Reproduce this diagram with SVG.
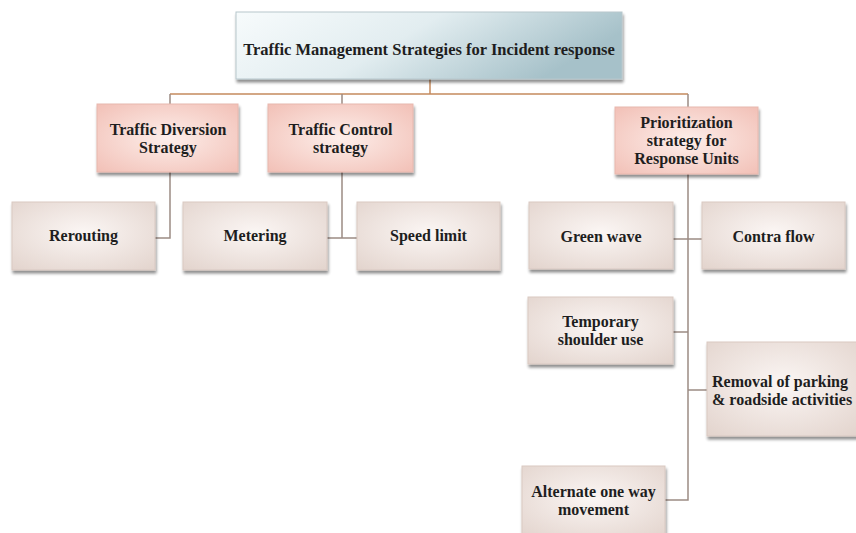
<svg xmlns="http://www.w3.org/2000/svg" width="856" height="533" viewBox="0 0 856 533">
<defs>
<linearGradient id="gTop" x1="0" y1="0" x2="1" y2="0.3">
<stop offset="0" stop-color="#f7fbfc"/>
<stop offset="0.5" stop-color="#e2edf0"/>
<stop offset="1" stop-color="#a6c1c9"/>
</linearGradient>
<radialGradient id="gPink" cx="0.5" cy="0.5" r="0.75">
<stop offset="0" stop-color="#fdeeea"/>
<stop offset="1" stop-color="#f1bdb3"/>
</radialGradient>
<radialGradient id="gLeaf" cx="0.5" cy="0.45" r="0.75">
<stop offset="0" stop-color="#fbf6f4"/>
<stop offset="1" stop-color="#e2d3cc"/>
</radialGradient>
<filter id="sh" x="-10%" y="-10%" width="125%" height="130%">
<feGaussianBlur in="SourceAlpha" stdDeviation="1.5"/>
<feOffset dx="1" dy="3" result="b"/>
<feComponentTransfer><feFuncA type="linear" slope="0.45"/></feComponentTransfer>
<feMerge><feMergeNode/><feMergeNode in="SourceGraphic"/></feMerge>
</filter>
</defs>
<style>
.top{fill:url(#gTop);stroke:#b7c7cc;stroke-width:1;filter:url(#sh)}
.pink{fill:url(#gPink);stroke:#e8b8ae;stroke-width:1;filter:url(#sh)}
.leaf{fill:url(#gLeaf);stroke:#d9c9c2;stroke-width:1;filter:url(#sh)}
text{font-family:"Liberation Serif","Times New Roman",serif;font-weight:bold;font-size:16px;fill:#1e1e1e;text-anchor:middle}
.c1{fill:none;stroke:#c58a5e;stroke-width:1.5}
.c2{fill:none;stroke:#9c8c84;stroke-width:1.5}
</style>
<g id="connectors">
<path class="c1" d="M430,79 V94 M170,94 H688"/>
<path class="c2" d="M170,94 V104 M342,94 V104 M688,94 V107"/>
<path class="c2" d="M170,172 V238 H155"/>
<path class="c2" d="M342,172 V238 M327,238 H357"/>
<path class="c2" d="M688,174 V500 H665 M673,239 H702 M673,332 H688 M688,390 H707"/>
</g>
<g id="root">
<rect class="top" x="236" y="12" width="386" height="67"/>
<text x="429" y="55" style="font-size:16.5px">Traffic Management Strategies for Incident response</text>
</g>
<g id="diversion">
<rect class="pink" x="97" y="104" width="141" height="68"/>
<text x="168" y="135">Traffic Diversion</text>
<text x="168" y="153">Strategy</text>
</g>
<g id="control">
<rect class="pink" x="268" y="104" width="145" height="68"/>
<text x="340.5" y="135">Traffic Control</text>
<text x="340.5" y="153">strategy</text>
</g>
<g id="prioritization">
<rect class="pink" x="615" y="107" width="143" height="67"/>
<text x="686.5" y="128">Prioritization</text>
<text x="686.5" y="146">strategy for</text>
<text x="686.5" y="164">Response Units</text>
</g>
<g id="rerouting">
<rect class="leaf" x="12" y="202" width="143" height="68"/>
<text x="83.5" y="241">Rerouting</text>
</g>
<g id="metering">
<rect class="leaf" x="183" y="202" width="144" height="68"/>
<text x="255" y="241">Metering</text>
</g>
<g id="speedlimit">
<rect class="leaf" x="357" y="202" width="143" height="68"/>
<text x="428.5" y="241">Speed limit</text>
</g>
<g id="greenwave">
<rect class="leaf" x="529" y="202" width="144" height="67"/>
<text x="601" y="242">Green wave</text>
</g>
<g id="contraflow">
<rect class="leaf" x="702" y="202" width="143" height="67"/>
<text x="773.5" y="242">Contra flow</text>
</g>
<g id="shoulder">
<rect class="leaf" x="528" y="297" width="145" height="67"/>
<text x="600.5" y="327">Temporary</text>
<text x="600.5" y="345">shoulder use</text>
</g>
<g id="removal">
<rect class="leaf" x="707" y="342" width="152" height="94"/>
<text x="712" y="387" style="text-anchor:start">Removal of parking</text>
<text x="712" y="405" style="text-anchor:start">&amp; roadside activities</text>
</g>
<g id="alternate">
<rect class="leaf" x="522" y="466" width="143" height="72"/>
<text x="593.5" y="497">Alternate one way</text>
<text x="593.5" y="515">movement</text>
</g>
</svg>
